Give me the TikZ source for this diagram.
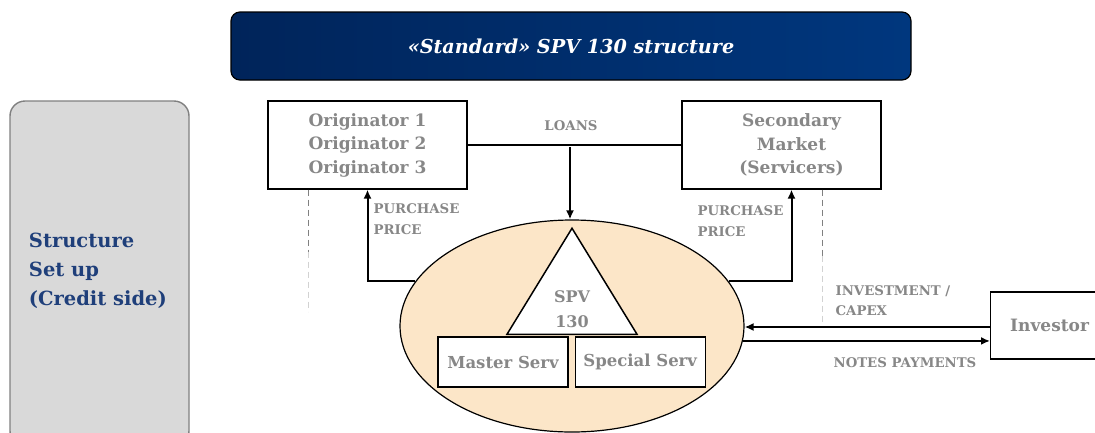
\documentclass[tikz,border=0pt]{standalone}
\usepackage{fontspec}
\setmainfont{DejaVu Serif}
\usetikzlibrary{arrows,arrows.meta,positioning,shapes.geometric}

\definecolor{titleblue}{HTML}{00245A}
\definecolor{titleblue2}{HTML}{00377E}
\definecolor{labelgray}{HTML}{878787}
\definecolor{sideblue}{HTML}{1F3F7A}
\definecolor{spvfill}{HTML}{FCE6C8}

\begin{document}
\begin{tikzpicture}[x=1pt,y=-1pt,>={Latex[length=9pt,width=8pt]},line width=1.2pt,
	box/.style={draw,fill=white,align=center,text=labelgray,font=\bfseries\fontsize{17}{23.5}\selectfont},
	servbox/.style={draw,fill=white,minimum width=130,minimum height=50,inner sep=0pt,text=labelgray,font=\bfseries\fontsize{16.5}{18}\selectfont},
	flowlbl/.style={text=labelgray,align=left,inner sep=0pt,font=\bfseries\fontsize{13.3}{20.5}\selectfont},
	flow/.style={->,line width=2pt},
	guide/.style={dash pattern=on 6pt off 4pt,line width=1.5pt,gray},
	guidelight/.style={guide,gray!35}]
	\useasboundingbox (0,0) rectangle (1095,432);
	% title bar
	\node[draw=black,rounded corners=9pt,left color=titleblue,right color=titleblue2,minimum width=680,minimum height=68,text=white,font=\bfseries\itshape\fontsize{19.2}{22}\selectfont] (title) at (571,46) {«Standard» SPV 130 structure};
	% side panel
	\node[draw=gray,line width=1.4pt,fill=gray!30,rounded corners=15pt,minimum width=179,minimum height=345] (side) at (99.5,273.5) {};
	\node[anchor=west,align=left,text=sideblue,font=\bfseries\fontsize{19.5}{29}\selectfont] (sidelbl) at (25,271) {Structure\\Set up\\(Credit side)};
	% parties
	\node[box,minimum width=199,minimum height=88] (orig) at (367.5,145) {Originator 1\\Originator 2\\Originator 3};
	\node[box,minimum width=199,minimum height=88] (sec) at (781.5,145) {\hspace*{20pt}Secondary\\\hspace*{20pt}Market\\\hspace*{20pt}(Servicers)};
	\node[box,minimum width=118,minimum height=67,anchor=west] (inv) at (990,325.5) {Investor};
	% SPV
	\node[ellipse,draw,fill=spvfill,minimum width=344,minimum height=212] (spv) at (572,326) {};
	\node[isosceles triangle,shape border rotate=90,isosceles triangle stretches,draw,line width=1.5pt,fill=white,minimum width=130,minimum height=106,inner sep=0pt,anchor=south] (tri) at (572,335) {};
	\node[text=labelgray,align=center,font=\bfseries\fontsize{16}{25}\selectfont] (spvlbl) at (572,309) {SPV\\130};
	\node[servbox] (master) at (503,362) {Master Serv};
	\node[servbox,right=6pt of master] (special) {Special Serv};
	% loans
	\coordinate (loans) at (570,147);
	\draw[line width=2pt] (orig.east) -- (sec.west);
	\draw[flow] (loans) -- (loans |- spv.north);
	\node[flowlbl] (loanslbl) at (571,126) {LOANS};
	% purchase price
	\draw[flow] (spv.164) -| (orig.south);
	\draw[flow] (spv.16) -| ([xshift=10pt]sec.south);
	\node[flowlbl,anchor=west] (pp1) at (373,219) {PURCHASE\\PRICE};
	\node[flowlbl,anchor=west] (pp2) at (697,221) {PURCHASE\\PRICE};
	\coordinate (gl) at ([xshift=41pt]orig.south west);
	\coordinate (gr) at ([xshift=-59pt]sec.south east);
	\draw[guide] (gl) -- ++(0,62) coordinate (glm);
	\draw[guidelight] (glm) -- ++(0,60);
	\draw[guide] (gr) -- ++(0,66) coordinate (grm);
	\draw[guidelight] (grm) -- ++(0,66);
	% investor
	\draw[flow] ([yshift=-1.5pt]inv.west) -- ([yshift=-1.5pt]inv.west -| spv.east);
	\draw[flow] (spv.-5) -- (spv.-5 -| inv.west);
	\node[flowlbl,anchor=west] (invlbl) at (835,300.5) {INVESTMENT /\\CAPEX};
	\node[flowlbl,anchor=west] (noteslbl) at (833,363) {NOTES PAYMENTS};
\end{tikzpicture}
\end{document}
